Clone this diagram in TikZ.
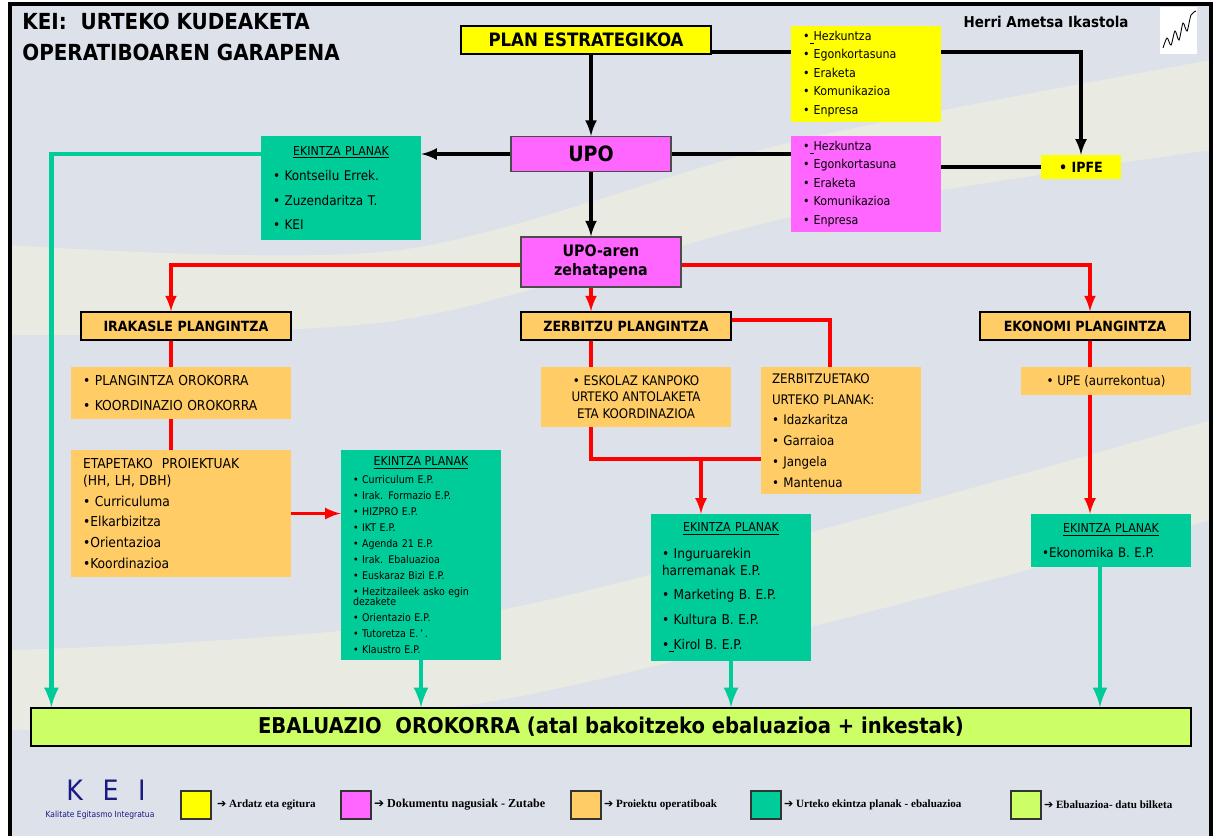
\documentclass[tikz,border=0pt]{standalone}
\usepackage{fontspec}
\setmainfont{DejaVu Sans Condensed}
\newfontfamily\legfont{Liberation Serif}
\newfontfamily\symfont{DejaVu Sans}
\usepackage{xcolor}
\usetikzlibrary{positioning, calc}

\definecolor{kyellow}{HTML}{FFFF00}
\definecolor{kpink}{HTML}{FF66FF}
\definecolor{korange}{HTML}{FFCC66}
\definecolor{kgreen}{HTML}{00CC99}
\definecolor{klime}{HTML}{CCFF66}
\definecolor{kbg}{HTML}{DDE1EA}
\definecolor{kstreak}{HTML}{F3F3DA}
\definecolor{knavy}{HTML}{1A1A85}

\tikzset{
  ttl/.style={anchor=west, inner sep=0pt, font=\bfseries\fontsize{12.6}{14}\selectfont},
  hdr/.style={draw=black, line width=0.8pt, inner sep=0pt, font=\bfseries\fontsize{8}{9}\selectfont},
  lst/.style={align=left, inner xsep=0.24cm, inner ysep=0pt},
  leg/.style={anchor=west, inner sep=0pt, font=\legfont\bfseries\fontsize{6.3}{7}\selectfont},
  legbox/.style={draw=black!80, line width=0.8pt, minimum width=0.6cm, minimum height=0.56cm},
  blk/.style={line width=2pt, black},
  rl/.style={line width=2pt, red},
  gl/.style={line width=2.8pt, kgreen},
}

\begin{document}
\begin{tikzpicture}[x=0.02cm, y=-0.02cm]
\useasboundingbox (0,0) rectangle (1213,836);
\fill[kbg] (10,4) rectangle (1211,836);
\fill[kstreak, opacity=0.55] plot[smooth] coordinates {(10,245) (400,250) (800,140) (1211,60)} -- plot[smooth] coordinates {(1211,150) (800,215) (400,320) (10,335)} -- cycle;
\fill[kstreak, opacity=0.55] plot[smooth] coordinates {(10,650) (500,610) (1211,420)} -- plot[smooth] coordinates {(1211,520) (500,700) (10,730)} -- cycle;
\draw[line width=2pt] (10,836) -- (10,4) -- (1211,4) -- (1211,836);

\node[ttl] (ttl1) at (22,21) {KEI:\ \ URTEKO KUDEAKETA};
\node[ttl] (ttl2) at (22,52) {OPERATIBOAREN GARAPENA};
\node[font=\bfseries\fontsize{8.5}{10}\selectfont] (herri) at (1046,22) {Herri Ametsa Ikastola};
\node[fill=white, minimum width=0.74cm, minimum height=0.94cm] (logo) at (1178.5,30.5) {};
\draw[line width=0.5pt] plot[smooth] coordinates {(1163,48) (1167,38) (1171,45) (1175,31) (1179,40) (1183,23) (1187,31) (1191,15) (1196,11)};

\node[hdr, fill=kyellow, minimum width=5cm, minimum height=0.56cm, font=\bfseries\fontsize{10.5}{12}\selectfont] (plan) at (586,40) {PLAN ESTRATEGIKOA};
\node[lst, fill=kyellow, text width=2.52cm, minimum height=1.92cm, font=\fontsize{7}{10.5}\selectfont] (ylist) at (866,74) {•\underline{\ }Hezkuntza\\ • Egonkortasuna\\ • Eraketa\\ • Komunikazioa\\ • Enpresa};
\node[fill=kyellow, minimum width=1.6cm, minimum height=0.48cm, font=\bfseries\fontsize{8}{9}\selectfont] (ipfe) at (1081,167) {• IPFE\hspace{0.3cm}};
\node[hdr, fill=kpink, draw=black!70, minimum width=3.2cm, minimum height=0.7cm, font=\bfseries\fontsize{12}{14}\selectfont] (upo) at (591,154) {UPO};
\node[lst, fill=kpink, text width=2.52cm, minimum height=1.92cm, font=\fontsize{7}{10.5}\selectfont] (mlist) at (866,184) {•\underline{\ }Hezkuntza\\ • Egonkortasuna\\ • Eraketa\\ • Komunikazioa\\ • Enpresa};
\node[lst, fill=kgreen, text width=2.72cm, minimum height=2.08cm, font=\fontsize{7.6}{14}\selectfont] (ekl) at (341,188) {\makebox[\linewidth]{\fontsize{7}{8}\selectfont\underline{EKINTZA PLANAK}}\\[0.5pt] • Kontseilu Errek.\\ • Zuzendaritza T.\\ • KEI};
\node[hdr, fill=kpink, draw=black!70, minimum width=3.2cm, minimum height=1cm, align=center, font=\bfseries\fontsize{9}{10.8}\selectfont] (upoz) at (601,262) {UPO-aren\\zehatapena};

\node[hdr, fill=korange, minimum width=4.2cm, minimum height=0.56cm] (irak) at (186,326) {IRAKASLE PLANGINTZA};
\node[hdr, fill=korange, minimum width=4.2cm, minimum height=0.56cm] (zerb) at (626,326) {ZERBITZU PLANGINTZA};
\node[hdr, fill=korange, minimum width=4.2cm, minimum height=0.56cm] (ekon) at (1085,326) {EKONOMI PLANGINTZA};

\node[lst, fill=korange, text width=3.92cm, minimum height=1.04cm, font=\fontsize{7.8}{14}\selectfont] (plor) at (181,393) {• PLANGINTZA OROKORRA\\ • KOORDINAZIO OROKORRA};
\node[lst, fill=korange, text width=3.92cm, minimum height=2.54cm, font=\fontsize{7.8}{11.9}\selectfont] (etap) at (181,513.5) {ETAPETAKO\ \ PROIEKTUAK\\[-2.3pt] (HH, LH, DBH)\\ • Curriculuma\\ •Elkarbizitza\\ •Orientazioa\\ •Koordinazioa};
\node[lst, fill=kgreen, text width=2.72cm, minimum height=4.2cm, font=\fontsize{6}{9.1}\selectfont] (ekb) at (421,555) {\makebox[\linewidth]{\fontsize{7}{8}\selectfont\underline{EKINTZA PLANAK}}\\[1pt] • Curriculum E.P.\\ • Irak. Formazio E.P.\\ • HIZPRO E.P.\\ • IKT E.P.\\ • Agenda 21 E.P.\\ • Irak. Ebaluazioa\\ • Euskaraz Bizi E.P.\\ • Hezitzaileek asko egin\\[-3.4pt] dezakete\\ • Orientazio E.P.\\ • Tutoretza E.\,'\,.\\ • Klaustro E.P.};

\node[fill=korange, minimum width=3.8cm, minimum height=1.2cm, align=center, font=\fontsize{7.5}{9.4}\selectfont] (esk) at (636,397) {• ESKOLAZ KANPOKO\\ URTEKO ANTOLAKETA\\ ETA KOORDINAZIOA};
\node[lst, fill=korange, inner xsep=0.22cm, text width=2.76cm, minimum height=2.54cm, font=\fontsize{7.5}{11.8}\selectfont] (zup) at (841,430.5) {ZERBITZUETAKO\\ URTEKO PLANAK:\\ • Idazkaritza\\ • Garraioa\\ • Jangela\\ • Mantenua};
\node[lst, fill=kgreen, inner xsep=0.22cm, text width=2.76cm, minimum height=2.94cm, font=\fontsize{7.7}{14}\selectfont] (ekz) at (731,587.5) {\makebox[\linewidth]{\fontsize{7}{8}\selectfont\underline{EKINTZA PLANAK}}\\[1.3pt] • Inguruarekin\\[-4.4pt] harremanak E.P.\\ • Marketing B. E.P.\\ • Kultura B. E.P.\\ •\underline{\ }Kirol B. E.P.};

\node[fill=korange, minimum width=3.4cm, minimum height=0.56cm, font=\fontsize{7.5}{9}\selectfont] (upe) at (1106,381) {• UPE (aurrekontua)};
\node[lst, fill=kgreen, inner xsep=0.22cm, text width=2.76cm, minimum height=1.06cm, font=\fontsize{7.5}{14}\selectfont] (ekk) at (1111,540.5) {\makebox[\linewidth]{\fontsize{7}{8}\selectfont\underline{EKINTZA PLANAK}}\\ •Ekonomika B. E.P.};

\node[hdr, fill=klime, minimum width=23.2cm, minimum height=0.76cm, font=\bfseries\fontsize{12.4}{14}\selectfont] (eval) at (611,727) {EBALUAZIO\ \ OROKORRA (atal bakoitzeko ebaluazioa + inkestak)};

% connectors
\draw[blk, -latex] (plan.south -| upo.north) -- (upo.north);
\coordinate (pl) at ([yshift=-0.24cm]plan.east);
\draw[blk] (pl) -- (pl -| ylist.west);
\draw[blk, -latex] (pl -| ylist.east) -| (ipfe.north);
\draw[blk, -latex] (upo.west) -- (upo.west -| ekl.east);
\draw[blk] (upo.east) -- (upo.east -| mlist.west);
\draw[blk] (ipfe.west -| mlist.east) -- (ipfe.west);
\draw[blk, -latex] (upo.south) -- (upo.south |- upoz.north);
\coordinate (g1) at ([xshift=0.42cm]eval.north west);
\draw[gl, -latex] (upo.west -| ekl.west) -| (g1);

\draw[rl, -latex] ([yshift=-0.06cm]upoz.west) -| ([xshift=-0.3cm]irak.north);
\draw[rl, -latex] ([yshift=-0.06cm]upoz.east) -| ([xshift=0.1cm]ekon.north);
\draw[rl, -latex] (upo.south |- upoz.south) -- (upo.south |- zerb.north);

\coordinate (ia) at ([xshift=-0.3cm]irak.south);
\draw[rl] (ia) -- (ia |- plor.north);
\draw[rl] (ia |- plor.south) -- (ia |- etap.north);
\draw[rl, -latex] (etap.east) -- (etap.east -| ekb.west);
\draw[gl, -latex] (ekb.south) -- (ekb.south |- eval.north);

\draw[rl] (upo.south |- zerb.south) -- (upo.south |- esk.north);
\draw[rl] ([yshift=0.12cm]zerb.east) -| ([xshift=-0.22cm]zup.north);
\coordinate (zl) at ([yshift=-0.57cm]zup.west);
\draw[rl] (upo.south |- esk.south) |- (zl);
\coordinate (ea) at ([xshift=-0.6cm]ekz.north);
\draw[rl, -latex] (ea |- zl) -- (ea);
\draw[gl, -latex] (ekz.south) -- (ekz.south |- eval.north);

\coordinate (ka) at ([xshift=0.1cm]ekon.south);
\draw[rl] (ka) -- (ka |- upe.north);
\coordinate (kb) at ([xshift=-0.42cm]ekk.north);
\draw[rl, -latex] (kb |- upe.south) -- (kb);
\coordinate (kc) at ([xshift=-0.22cm]ekk.south);
\draw[gl, -latex] (kc) -- (kc |- eval.north);

% legend
\node[font=\fontsize{16}{18}\selectfont, text=knavy] (kei) at (106,790) {K\hspace{0.7em}E\hspace{0.7em}I};
\node[font=\fontsize{4.8}{6}\selectfont, text=knavy] (keit) at (100,815) {Kalitate Egitasmo Integratua};
\node[legbox, fill=kyellow] (lb1) at (196,805) {};
\node[legbox, fill=kpink] (lb2) at (356,805) {};
\node[legbox, fill=korange] (lb3) at (586,805) {};
\node[legbox, fill=kgreen] (lb4) at (766,805) {};
\node[legbox, fill=klime] (lb5) at (1026,805) {};
\node[leg] (lt1) at ([xshift=0.1cm]lb1.east) {{\symfont ➔} Ardatz eta egitura};
\node[leg, font=\legfont\bfseries\fontsize{6.9}{8}\selectfont] (lt2) at ([xshift=0.04cm]lb2.east) {{\symfont ➔} Dokumentu nagusiak - Zutabe};
\node[leg] (lt3) at ([xshift=0.04cm]lb3.east) {{\symfont ➔} Proiektu operatiboak};
\node[leg] (lt4) at ([xshift=0.04cm]lb4.east) {{\symfont ➔} Urteko ekintza planak - ebaluazioa};
\node[leg] (lt5) at ([xshift=0.04cm]lb5.east) {{\symfont ➔} Ebaluazioa- datu bilketa};
\end{tikzpicture}
\end{document}
